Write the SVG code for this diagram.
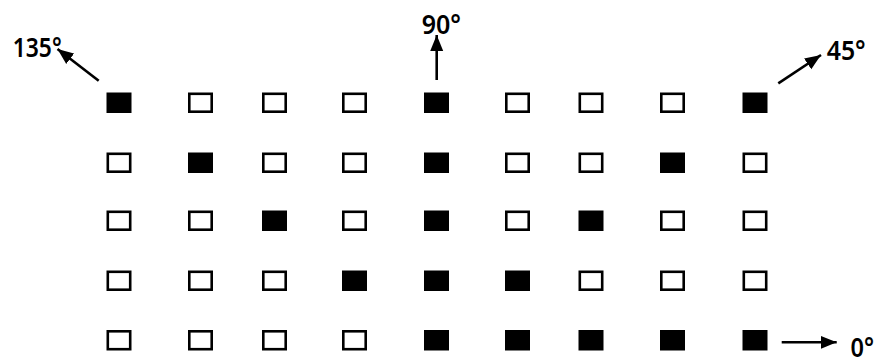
<svg xmlns="http://www.w3.org/2000/svg" width="876" height="358" viewBox="0 0 876 358">
<style>
.on{fill:#000;stroke:none}
.off{fill:#fff;stroke:#000;stroke-width:2.6}
.lbl{font-family:"Noto Sans","Liberation Sans",sans-serif;font-size:27px;font-weight:600;fill:#000}
.arr{stroke:#000;stroke-width:2.6;fill:none;marker-end:url(#head)}
</style>
<defs>
<marker id="head" markerUnits="userSpaceOnUse" markerWidth="17" markerHeight="14" refX="16" refY="7" orient="auto">
<path d="M0,0.5 L16,7 L0,13.5 z" fill="#000"/>
</marker>
<rect id="f" class="on" width="25" height="20.5"/>
<rect id="h" class="off" x="1.3" y="1.3" width="22.4" height="17.9"/>
</defs>
<rect width="876" height="358" fill="#fff"/>
<g id="grid">
<g id="row1" transform="translate(0,92.5)">
<use href="#f" x="106.5"/><use href="#h" x="188"/><use href="#h" x="262"/><use href="#h" x="342"/><use href="#f" x="424"/><use href="#h" x="505"/><use href="#h" x="578.5"/><use href="#h" x="660"/><use href="#f" x="742.5"/>
</g>
<g id="row2" transform="translate(0,152.5)">
<use href="#h" x="106.5"/><use href="#f" x="188"/><use href="#h" x="262"/><use href="#h" x="342"/><use href="#f" x="424"/><use href="#h" x="505"/><use href="#h" x="578.5"/><use href="#f" x="660"/><use href="#h" x="742.5"/>
</g>
<g id="row3" transform="translate(0,210.5)">
<use href="#h" x="106.5"/><use href="#h" x="188"/><use href="#f" x="262"/><use href="#h" x="342"/><use href="#f" x="424"/><use href="#h" x="505"/><use href="#f" x="578.5"/><use href="#h" x="660"/><use href="#h" x="742.5"/>
</g>
<g id="row4" transform="translate(0,270.5)">
<use href="#h" x="106.5"/><use href="#h" x="188"/><use href="#h" x="262"/><use href="#f" x="342"/><use href="#f" x="424"/><use href="#f" x="505"/><use href="#h" x="578.5"/><use href="#h" x="660"/><use href="#h" x="742.5"/>
</g>
<g id="row5" transform="translate(0,330)">
<use href="#h" x="106.5"/><use href="#h" x="188"/><use href="#h" x="262"/><use href="#h" x="342"/><use href="#f" x="424"/><use href="#f" x="505"/><use href="#f" x="578.5"/><use href="#f" x="660"/><use href="#f" x="742.5"/>
</g>
</g>
<g id="connectors">
<line class="arr" x1="98.7" y1="80.7" x2="57.5" y2="49"/>
<line class="arr" x1="436.7" y1="80" x2="436.7" y2="35"/>
<line class="arr" x1="778.3" y1="83.3" x2="821" y2="55"/>
<line class="arr" x1="781.7" y1="342.3" x2="836.7" y2="342.3"/>
</g>
<g id="labels">
<text class="lbl" x="12.7" y="56.7" textLength="49" lengthAdjust="spacingAndGlyphs">135°</text>
<text class="lbl" x="421.7" y="34" textLength="39.3" lengthAdjust="spacingAndGlyphs">90°</text>
<text class="lbl" x="826.7" y="60" textLength="39" lengthAdjust="spacingAndGlyphs">45°</text>
<text class="lbl" x="850.5" y="356.5" textLength="23.5" lengthAdjust="spacingAndGlyphs">0°</text>
</g>
</svg>
